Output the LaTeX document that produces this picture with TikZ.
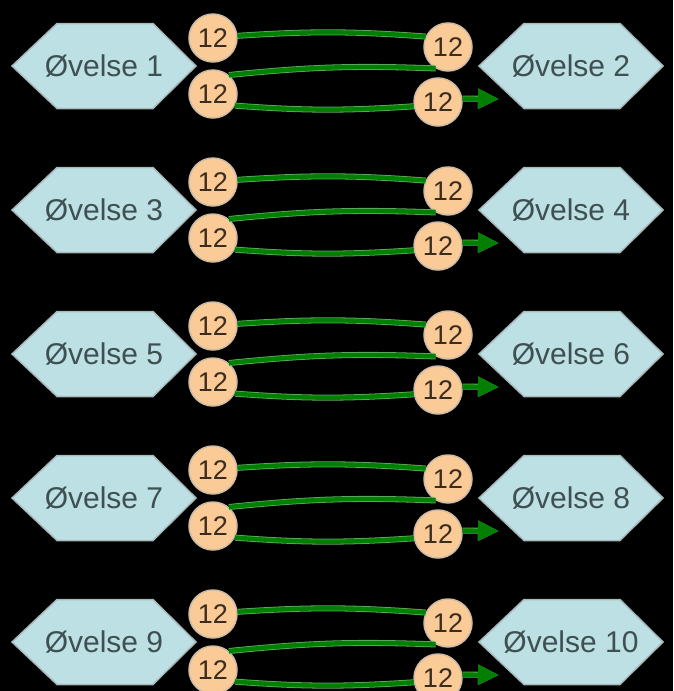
\documentclass[tikz,border=0pt]{standalone}
\usepackage{fontspec}
\setmainfont{Liberation Sans}
\usetikzlibrary{arrows.meta}
\definecolor{hexfill}{HTML}{BCE0E4}
\definecolor{hexline}{HTML}{A9B9BA}
\definecolor{hextext}{HTML}{3F5052}
\definecolor{numfill}{HTML}{FBCB97}
\definecolor{numline}{HTML}{CDBBA8}
\definecolor{numtext}{HTML}{3A2C1E}
\definecolor{flow}{HTML}{008000}
\definecolor{flowhalo}{HTML}{5FAE5F}
\tikzset{
  hexshape/.style={fill=hexfill, draw=hexline, line width=1.5pt, line join=miter},
  hexlabel/.style={inner sep=0pt, text=hextext, font=\fontsize{30}{30}\selectfont},
  numbox/.style={circle, minimum size=48pt, inner sep=0pt, fill=numfill,
    draw=numline, line width=1.5pt, text=numtext,
    font=\fontsize{27}{27}\selectfont},
  flowline/.style={draw=flow, line width=4.4pt,
    preaction={draw=flowhalo, line width=6pt}},
  flowarrow/.style={flowline, -{Triangle[length=21pt,width=19pt]}},
}
\newcommand\hexat[1]{%
  \path[hexshape] (#1) ++(-92,0) -- ++(45,42.5) -- ++(96,0) -- ++(43,-42.5)
    -- ++(-43,-42.5) -- ++(-96,0) -- cycle;}
\begin{document}
\begin{tikzpicture}[x=1pt,y=1pt]
\path[fill=black,use as bounding box] (0,0) rectangle (673,-691);
\foreach \k in {0,...,4}{
  \pgfmathtruncatemacro\na{2*\k+1}
  \pgfmathtruncatemacro\nb{2*\k+2}
  \pgfmathsetmacro\o{144*\k}
  \coordinate (pl\k) at (104,-66-\o);
  \coordinate (pr\k) at (571,-66-\o);
  \hexat{pl\k}
  \hexat{pr\k}
  \node[hexlabel] (hl\k) at (pl\k) {Øvelse \na};
  \node[hexlabel] (hr\k) at (pr\k) {Øvelse \nb};
  \node[numbox] (a\k) at (213,-38-\o) {12};
  \node[numbox] (b\k) at (448,-47-\o) {12};
  \node[numbox] (c\k) at (213,-94-\o) {12};
  \node[numbox] (d\k) at (438,-102-\o) {12};
  \coordinate (t\k) at (499,-99-\o);
  \draw[flowline] (a\k.5) to[bend left=4] (b\k.155);
  \draw[flowline] (b\k.240) to[bend right=4] (c\k.50);
  \draw[flowline] (c\k.-28) to[bend right=4] (d\k.190);
  \draw[flowarrow] (d\k.8) -- (t\k);
}
\end{tikzpicture}
\end{document}
